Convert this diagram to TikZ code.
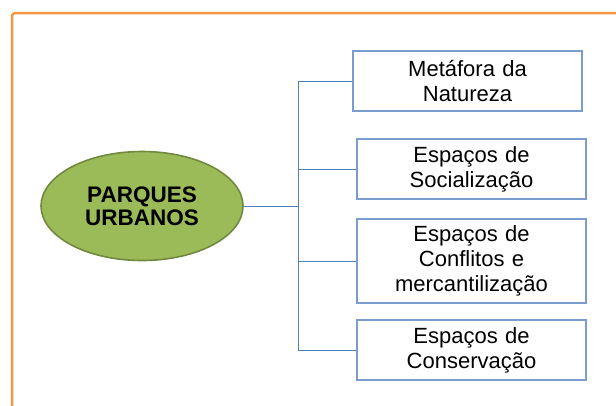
\documentclass[tikz,border=0pt]{standalone}
\usepackage{fontspec}
\setmainfont{Liberation Sans}
\usepackage{xcolor}
\usepackage{tikz}
\usetikzlibrary{shapes.geometric, positioning, calc}
\definecolor{frameorange}{HTML}{F79646}
\definecolor{parkgreen}{HTML}{9BBB59}
\definecolor{parkdark}{HTML}{71893F}
\definecolor{linkblue}{HTML}{4F81BD}
\definecolor{boxblue}{HTML}{7A9CCE}
\tikzstyle{park} = [ellipse, minimum width=202pt, minimum height=109pt, inner sep=0pt, align=center, draw=parkdark, line width=1.6pt, fill=parkgreen, font=\fontsize{22.5}{23}\selectfont\bfseries]
\tikzstyle{theme} = [rectangle, minimum width=229pt, minimum height=60pt, text width=225pt, inner sep=2pt, align=center, draw=boxblue, line width=1.1pt, fill=white, font=\fontsize{22}{25}\selectfont]
\tikzstyle{link} = [linkblue, line width=1pt]
\tikzstyle{frame} = [frameorange, line width=2.5pt, rounded corners=3pt]

\begin{document}
\begin{tikzpicture}[x=1pt, y=-1pt]
\useasboundingbox (0,0) rectangle (616,405);

% Frame
\draw [frame] (12,420) -- (12,13) -- (630,13);

% Centre
\node (parques) [park] at (142,206) {PARQUES\\URBANOS};

% Themes
\node (metafora) [theme] at (467.5,81) {Metáfora da\\Natureza};
\node (social) [theme] at (471.5,169) {Espaços de\\Socialização};
\node (conflito) [theme, minimum height=84pt] at (471.5,261) {Espaços de\\Conflitos e\\mercantilização};
\node (conserva) [theme] at (471.5,350) {Espaços de\\Conservação};

% Connectors
\coordinate (fork) at (298,206);
\draw [link] (parques.east) -- (fork);
\draw [link] (fork |- metafora.west) -- (fork |- conserva.west);
\foreach \n in {metafora, social, conflito, conserva}
  \draw [link] (fork |- \n.west) -- (\n.west);

\end{tikzpicture}
\end{document}
